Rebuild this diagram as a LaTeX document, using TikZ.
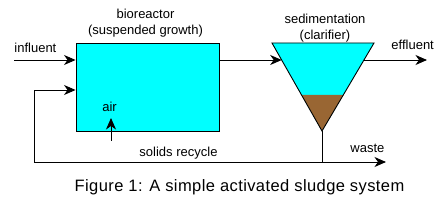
\documentclass[tikz,border=0pt]{standalone}
\usepackage{fontspec}
\setmainfont{Liberation Sans}
\usetikzlibrary{arrows.meta}
\definecolor{tankcyan}{RGB}{0,255,255}
\definecolor{sludgebrown}{RGB}{153,102,51}
\begin{document}
\begin{tikzpicture}[x=1pt, y=-1pt, line width=0.9pt,
  flow/.style={-{Stealth[length=11.5pt,width=10pt,inset=3.5pt]}},
  lbl/.style={font=\fontsize{13}{16}\selectfont, inner sep=0pt, align=center}]
  \useasboundingbox (0,0) rectangle (445,208);
  % bioreactor tank
  \node[draw, fill=tankcyan, minimum width=143pt, minimum height=88pt, inner sep=0pt] (reactor) at (147.5,87) {};
  % clarifier cone and settled sludge
  \coordinate (clTL) at (272,43);
  \coordinate (clTR) at (374,43);
  \coordinate (clApex) at (322,131);
  \fill[tankcyan] (clTL) -- (clTR) -- (clApex) -- cycle;
  \fill[sludgebrown] (301.5,95) -- (343.3,95) -- (clApex) -- cycle;
  \draw (clTL) -- (clTR) -- (clApex) -- cycle;
  % stream points
  \coordinate (inf) at (14,60);
  \coordinate (feed) at (281.7,60);
  \coordinate (over) at (364.3,60);
  \coordinate (eff) at (427,60);
  \coordinate (split) at (322,162);
  \coordinate (wasteEnd) at (386,162);
  \coordinate (retCorner) at (34,162);
  \coordinate (retIn) at (34,90);
  \coordinate (airIn) at (111,141);
  \coordinate (airOut) at (111,118);
  % streams
  \draw[flow] (inf) -- (inf -| reactor.west);
  \draw[flow] (reactor.east |- feed) -- (feed);
  \draw[flow] (over) -- (eff);
  \draw (clApex) -- (split);
  \draw[flow] (split) -- (wasteEnd);
  \draw[flow] (split) -- (retCorner) -- (retIn) -- (retIn -| reactor.west);
  \draw[flow] (airIn) -- (airOut);
  % labels
  \node[lbl] (reactorLbl) at (145.5,23) {bioreactor\\(suspended growth)};
  \node[lbl] (clarLbl) at (325,28) {sedimentation\\(clarifier)};
  \node[lbl, anchor=west] (infLbl) at (14,48) {influent};
  \node[lbl, anchor=west] (effLbl) at (391,45) {effluent};
  \node[lbl, anchor=west] (wasteLbl) at (350,148) {waste};
  \node[lbl] (recLbl) at (178.5,153) {solids recycle};
  \node[lbl] (airLbl) at (109.5,107) {air};
  \node[inner sep=0pt, font=\fontsize{16.5}{18}\selectfont\addfontfeature{LetterSpace=2.5}] (caption) at (239.5,187) {Figure 1: A simple activated sludge system};
\end{tikzpicture}
\end{document}
